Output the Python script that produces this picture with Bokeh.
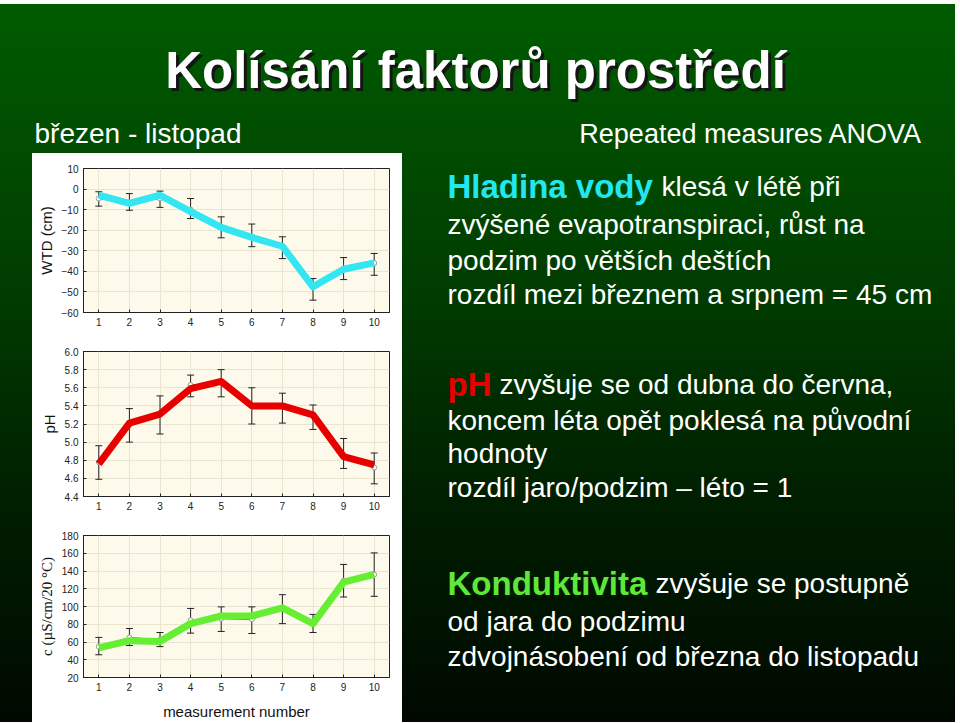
from bokeh.plotting import figure
from bokeh.layouts import column, row
from bokeh.models import (ColumnDataSource, Whisker, TeeHead, FixedTicker, Range1d,
                          Spacer, Label, PrintfTickFormatter)
from bokeh.embed import file_html
from bokeh.resources import INLINE

# ---------------- data ----------------
measurement = [1, 2, 3, 4, 5, 6, 7, 8, 9, 10]

wtd_mean = [-4.6, -7.0, -4.6, -10.0, -18.4, -23.0, -28.0, -47.5, -38.6, -36.0]
wtd_low = [-8.3, -10.3, -8.9, -14.3, -23.7, -28.0, -33.8, -54.0, -44.0, -41.9]
wtd_high = [-1.3, -2.2, -1.0, -4.6, -13.5, -17.0, -23.2, -43.5, -33.3, -31.3]
wtd_trend = [-3.0, -7.0, -3.0, -11.0, -18.6, -23.5, -27.8, -47.5, -39.0, -35.9]
wtd_ticks = [-60, -50, -40, -30, -20, -10, 0, 10]

ph_mean = [4.78, 5.19, 5.31, 5.63, 5.66, 5.40, 5.40, 5.30, 4.86, 4.72]
ph_low = [4.59, 5.00, 5.09, 5.50, 5.50, 5.20, 5.21, 5.14, 4.71, 4.54]
ph_high = [4.96, 5.37, 5.51, 5.74, 5.80, 5.60, 5.54, 5.41, 5.04, 4.88]
ph_trend = [4.76, 5.21, 5.31, 5.59, 5.67, 5.40, 5.40, 5.30, 4.84, 4.75]
ph_ticks = [4.4, 4.6, 4.8, 5.0, 5.2, 5.4, 5.6, 5.8, 6.0]

cond_mean = [55.0, 65.0, 62.6, 84.4, 86.3, 85.6, 98.5, 81.0, 129.0, 136.0]
cond_low = [45.6, 56.0, 54.8, 70.0, 71.9, 69.6, 80.7, 70.7, 110.7, 111.5]
cond_high = [65.2, 75.2, 70.7, 97.8, 99.6, 99.6, 113.3, 91.1, 147.4, 160.4]
cond_trend = [53.3, 61.5, 60.7, 80.7, 89.3, 89.3, 98.5, 80.7, 127.4, 136.3]
cond_ticks = [20, 40, 60, 80, 100, 120, 140, 160, 180]

FONT = "Liberation Sans"
SERIF = "Liberation Serif"
INK = "#222222"


def make_chart(height, b_top, b_bottom, ylabel, yrange, yticks, mean, low, high,
               trend, color, xlabel=None, yfmt=None, ylabel_font=FONT, ylabel_size="14px"):
    p = figure(width=370, height=height, x_range=Range1d(0.5, 10.5),
               y_range=Range1d(*yrange), output_backend="svg", toolbar_location=None,
               min_border_left=51, min_border_right=13,
               min_border_top=b_top, min_border_bottom=b_bottom)
    p.background_fill_color = "#fdfaec"
    p.border_fill_color = "white"
    p.outline_line_color = INK
    p.outline_line_width = 1

    src = ColumnDataSource(dict(x=measurement, mean=mean, low=low, high=high, trend=trend))
    wh = Whisker(base="x", upper="high", lower="low", source=src, line_color=INK,
                 line_width=1, level="underlay",
                 upper_head=TeeHead(size=7, line_color=INK, line_width=1),
                 lower_head=TeeHead(size=7, line_color=INK, line_width=1))
    p.add_layout(wh)
    p.line("x", "mean", source=src, line_color=INK, line_width=1)
    p.scatter("x", "mean", source=src, size=5, fill_color="white", line_color="#999999")
    p.line("x", "trend", source=src, line_color=color, line_width=7, line_join="round")

    p.xaxis.ticker = FixedTicker(ticks=measurement)
    p.yaxis.ticker = FixedTicker(ticks=yticks)
    if yfmt:
        p.yaxis.formatter = PrintfTickFormatter(format=yfmt)
    p.axis.major_tick_in = 3
    p.axis.major_tick_out = 0
    p.axis.minor_tick_line_color = None
    p.axis.axis_line_color = INK
    p.axis.major_tick_line_color = INK
    p.axis.major_label_text_font = FONT
    p.axis.major_label_text_font_size = "10px"
    p.axis.major_label_text_color = INK
    p.axis.major_label_standoff = 5
    p.yaxis.axis_label = ylabel
    p.yaxis.axis_label_text_font = ylabel_font
    p.yaxis.axis_label_text_font_size = ylabel_size
    p.yaxis.axis_label_text_font_style = "normal"
    p.yaxis.axis_label_text_color = "#111111"
    p.yaxis.axis_label_standoff = 4
    if xlabel:
        p.xaxis.axis_label = xlabel
        p.xaxis.axis_label_text_font = FONT
        p.xaxis.axis_label_text_font_size = "15px"
        p.xaxis.axis_label_text_font_style = "normal"
        p.xaxis.axis_label_text_color = "#111111"
        p.xaxis.axis_label_standoff = 9
    p.grid.grid_line_color = "#ebe5d0"
    p.grid.grid_line_width = 1
    return p


c1 = make_chart(185, 15, 26, "WTD (cm)", (-60, 10), wtd_ticks, wtd_mean, wtd_low,
                wtd_high, wtd_trend, "#33e6f2", ylabel_size="15px")
c2 = make_chart(184, 13, 26, "pH", (4.4, 6.0), ph_ticks, ph_mean, ph_low, ph_high,
                ph_trend, "#e80000", yfmt="%.1f", ylabel_size="15px")
c3 = make_chart(200, 13, 43, "c (µS/cm/20 °C)", (20, 180), cond_ticks, cond_mean,
                cond_low, cond_high, cond_trend, "#66ee33", xlabel="measurement number",
                ylabel_font=SERIF, ylabel_size="15px")


def blank(width, height, x0, x1, y0, y1):
    p = figure(width=width, height=height, x_range=Range1d(x0, x1), y_range=Range1d(y1, y0),
               output_backend="svg", toolbar_location=None, x_axis_type=None,
               y_axis_type=None, min_border=0)
    p.background_fill_alpha = 0
    p.border_fill_alpha = 0
    p.outline_line_color = None
    p.grid.visible = False
    return p


def lab(p, x, y, text, size, color="white", bold=False, align="left"):
    p.add_layout(Label(x=x, y=y, text=text, text_font=FONT, text_font_size=size,
                       text_color=color, text_font_style="bold" if bold else "normal",
                       text_align=align, text_baseline="middle"))


# header (page y 4..153)
top = blank(955, 149, 0, 955, 4, 153)
lab(top, 478, 73, "Kolísání faktorů prostředí", "51px", color="#151515", bold=True, align="center")
lab(top, 475, 70, "Kolísání faktorů prostředí", "51px", bold=True, align="center")
lab(top, 34, 133, "březen - listopad", "28px")
lab(top, 922, 133, "Repeated measures ANOVA", "27px", align="right")

# right-hand text (page x 402..955, y 153..722)
txt = blank(553, 569, 402, 955, 153, 722)
X0 = 447
lab(txt, X0, 186, "Hladina vody", "33px", color="#22e6f0", bold=True)
lab(txt, 661, 186, "klesá v létě při", "28px")
lab(txt, X0, 224, "zvýšené evapotranspiraci, růst na", "28px")
lab(txt, X0, 260, "podzim po větších deštích", "28px")
lab(txt, X0, 294, "rozdíl mezi březnem a srpnem = 45 cm", "28px")

lab(txt, X0, 384, "pH", "33px", color="#e60000", bold=True)
lab(txt, 499, 384, "zvyšuje se od dubna do června,", "28px")
lab(txt, X0, 420, "koncem léta opět poklesá na původní", "28px")
lab(txt, X0, 453, "hodnoty", "28px")
lab(txt, X0, 487, "rozdíl jaro/podzim – léto = 1", "28px")

lab(txt, X0, 583, "Konduktivita", "33px", color="#5ee83a", bold=True)
lab(txt, 655, 583, "zvyšuje se postupně", "28px")
lab(txt, X0, 621, "od jara do podzimu", "28px")
lab(txt, X0, 656, "zdvojnásobení od března do listopadu", "28px")

charts = column(c1, c2, c3, styles={"background": "white"})
body = row(Spacer(width=32, height=569), charts, txt)
slide = column(top, body, width=955, height=718,
               styles={"background": "linear-gradient(180deg, #005c00 0%, #003c00 40%, #001e00 70%, #000900 100%)"})
root = column(Spacer(width=955, height=4), slide)

open("out.html", "w").write(file_html(root, INLINE))
